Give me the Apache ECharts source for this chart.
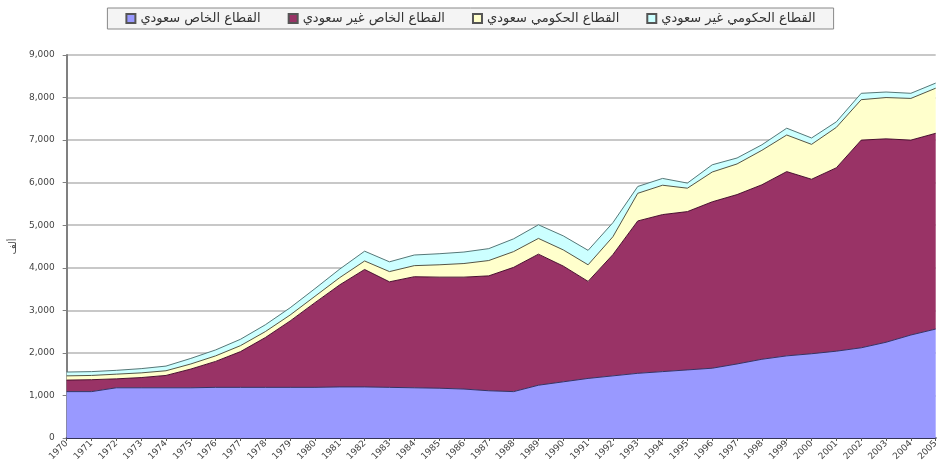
<!DOCTYPE html>
<html>
<head>
<meta charset="utf-8">
<script src="https://cdn.jsdelivr.net/npm/echarts@6/dist/echarts.min.js"></script>
<style>
  html, body { margin: 0; padding: 0; background: #fff; }
  #chart { width: 941px; height: 473px; }
</style>
</head>
<body>
<div id="chart"></div>
<script>
// السنوات
var years = [];
for (var y = 1970; y <= 2005; y++) { years.push(String(y)); }

var seriesNames = ['القطاع الخاص سعودي', 'القطاع الخاص غير سعودي', 'القطاع الحكومي سعودي', 'القطاع الحكومي غير سعودي'];

// بالألف
var privSaudi = [1090, 1090, 1180, 1180, 1180, 1180, 1190, 1190, 1190, 1190, 1190, 1200,
    1200, 1190, 1180, 1170, 1150, 1110, 1090, 1240, 1320, 1400, 1460, 1520,
    1560, 1600, 1640, 1740, 1850, 1930, 1980, 2040, 2120, 2250, 2420, 2560];
var privNonSaudi = [270, 280, 210, 240, 290, 440, 610, 840, 1170, 1560, 1990, 2400,
    2760, 2480, 2610, 2610, 2630, 2700, 2920, 3080, 2720, 2280, 2850, 3580,
    3690, 3720, 3910, 3980, 4100, 4330, 4100, 4310, 4880, 4780, 4580, 4600];
var govSaudi = [100, 100, 110, 110, 110, 120, 130, 140, 140, 140, 150, 170,
    200, 240, 260, 290, 320, 360, 370, 370, 380, 390, 420, 650,
    690, 550, 700, 720, 810, 860, 820, 950, 950, 970, 980, 1060];
var govNonSaudi = [90, 90, 90, 100, 110, 130, 140, 150, 160, 170, 180, 200,
    230, 230, 250, 260, 270, 280, 300, 320, 330, 340, 330, 160,
    160, 120, 170, 140, 130, 160, 150, 130, 150, 130, 120, 120];

var fills = ['#9999FF', '#993366', '#FFFFCC', '#CCFFFF'];
var edges = ['#333366', '#4a1030', '#555544', '#557777'];
var dataSets = [privSaudi, privNonSaudi, govSaudi, govNonSaudi];

var series = [];
for (var i = 0; i < dataSets.length; i++) {
    series.push({
        name: seriesNames[i],
        type: 'line',
        stack: 'total',
        data: dataSets[i],
        symbol: 'none',
        smooth: false,
        lineStyle: { color: edges[i], width: 1 },
        itemStyle: { color: fills[i], borderColor: '#555', borderWidth: 1 },
        areaStyle: { color: fills[i], opacity: 1 }
    });
}

var myChart = echarts.init(document.getElementById('chart'));
var option = {
    backgroundColor: '#ffffff',
    animation: false,
    legend: {
        data: seriesNames,
        top: 8,
        left: 'center',
        itemWidth: 9,
        itemHeight: 9,
        itemGap: 27,
        icon: 'rect',
        padding: [4, 18],
        borderColor: '#888',
        borderWidth: 1,
        backgroundColor: '#f4f4f4',
        textStyle: { fontFamily: 'DejaVu Sans', fontSize: 13, color: '#333' }
    },
    grid: { left: 66, right: 2, top: 55, bottom: 35 },
    xAxis: {
        type: 'category',
        data: years,
        boundaryGap: false,
        axisLine: { lineStyle: { color: '#333355', width: 2 } },
        axisTick: { show: true, interval: 0, length: 3, lineStyle: { color: '#555' } },
        axisLabel: {
            interval: 0,
            rotate: 45,
            fontSize: 9,
            color: '#444',
            fontFamily: 'DejaVu Sans',
            margin: 4
        }
    },
    yAxis: {
        type: 'value',
        min: 0,
        max: 9000,
        interval: 1000,
        name: 'ألف',
        nameLocation: 'middle',
        nameGap: 48,
        nameRotate: 90,
        nameTextStyle: { fontFamily: 'DejaVu Sans', fontSize: 10, color: '#444' },
        axisLine: { show: true, lineStyle: { color: '#808080', width: 2 } },
        axisTick: { show: true, length: 4, lineStyle: { color: '#808080' } },
        axisLabel: {
            fontSize: 9,
            color: '#444',
            fontFamily: 'DejaVu Sans',
            margin: 12,
            formatter: function (v) {
                return v === 0 ? '0' : String(v).replace(/(\d)(\d{3})$/, '$1,$2');
            }
        },
        splitLine: { show: true, lineStyle: { color: '#c8c8c8', width: 2 } }
    },
    series: series
};
myChart.setOption(option);
</script>
</body>
</html>
